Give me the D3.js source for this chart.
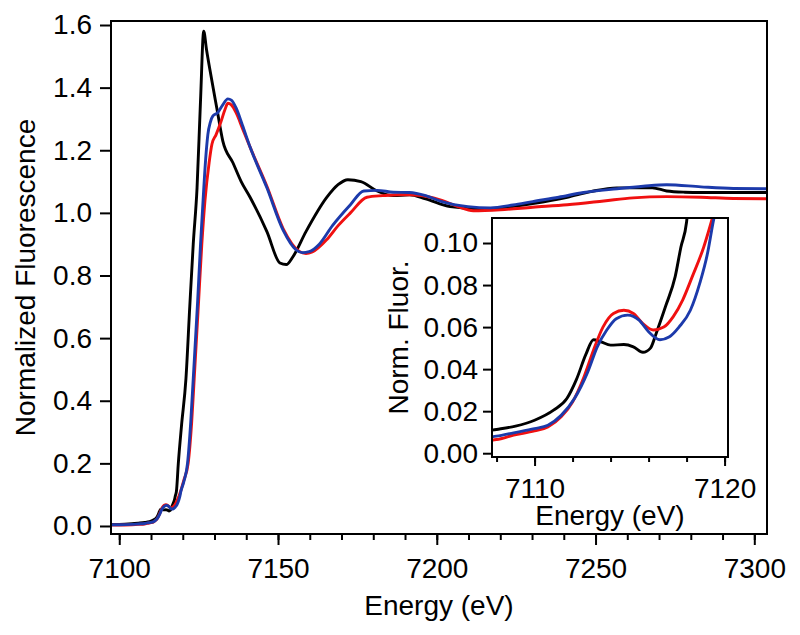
<!DOCTYPE html>
<html>
<head>
<meta charset="utf-8">
<script src="https://cdn.jsdelivr.net/npm/d3@7"></script>
<style>
  html, body { margin: 0; padding: 0; background: #fff; }
  svg { display: block; }
  text { font-family: "Liberation Sans", Arial, sans-serif; fill: #000; }
</style>
</head>
<body>
<svg id="chart" width="800" height="635"></svg>
<script>
// ---------------- DATA ----------------
const seriesNames = ["black", "red", "blue"];
const seriesColors = ["#000000", "#f01010", "#1c3aab"];

// [energy (eV), normalized fluorescence]
const blackData = [
  [7097.4, 0.005], [7100, 0.005], [7104, 0.007], [7106, 0.009], [7108, 0.0113], [7109, 0.0129],
  [7110, 0.0157], [7111, 0.0205], [7111.7, 0.026], [7112.2, 0.035], [7112.7, 0.047], [7113.1, 0.054],
  [7113.5, 0.053], [7114, 0.0514], [7114.7, 0.0517], [7115.2, 0.0506], [7115.7, 0.048], [7116.1, 0.050],
  [7116.4, 0.057], [7116.9, 0.070], [7117.4, 0.084], [7117.7, 0.098], [7118, 0.110], [7118.6, 0.20],
  [7119.6, 0.32], [7121, 0.47], [7122.2, 0.70], [7123.3, 0.90], [7124.5, 1.08], [7125.6, 1.36],
  [7126.6, 1.58], [7127.5, 1.52], [7128.5, 1.46], [7130.8, 1.33], [7132.6, 1.23], [7135.8, 1.16],
  [7138.4, 1.10], [7141.2, 1.05], [7146.5, 0.94], [7150.6, 0.84], [7152.6, 0.835], [7154.7, 0.86],
  [7158.8, 0.94], [7165.4, 1.05], [7168.9, 1.09], [7172, 1.106], [7176.1, 1.10], [7181.2, 1.07],
  [7186.3, 1.055], [7191.4, 1.058], [7196.5, 1.045], [7204.2, 1.02], [7214.6, 1.013], [7220, 1.016],
  [7230.2, 1.03], [7241.1, 1.05], [7248.5, 1.068], [7256.7, 1.08], [7267.9, 1.08], [7272.4, 1.07],
  [7278.1, 1.066], [7283.2, 1.065], [7304, 1.065]
];
const redData = [
  [7097.4, 0.003], [7100, 0.003], [7104, 0.004], [7106, 0.005], [7108, 0.0065], [7108.9, 0.0086],
  [7110, 0.0106], [7110.7, 0.0125], [7111.4, 0.0173], [7112, 0.0244], [7112.6, 0.0363], [7113.1, 0.049],
  [7113.6, 0.060], [7114.15, 0.0665], [7114.7, 0.068], [7115.2, 0.0665], [7115.7, 0.0617], [7116.25, 0.0586],
  [7116.8, 0.060], [7117.3, 0.065], [7117.8, 0.073], [7118.3, 0.084], [7118.9, 0.098], [7119.3, 0.110],
  [7120.3, 0.145], [7121.7, 0.20], [7122.8, 0.33], [7123.6, 0.47], [7125.0, 0.72], [7126.0, 0.90],
  [7127.0, 1.04], [7128.3, 1.16], [7129.2, 1.22], [7130.5, 1.25], [7132, 1.29], [7133.3, 1.33],
  [7134.2, 1.35], [7135.3, 1.345], [7136.8, 1.32], [7138.8, 1.27], [7141.2, 1.21], [7146.5, 1.085],
  [7151.6, 0.95], [7156.7, 0.877], [7158.8, 0.87], [7160.8, 0.875], [7165.4, 0.915], [7169, 0.96],
  [7172.8, 1.0], [7178, 1.05], [7183, 1.055], [7188, 1.058], [7192, 1.058], [7196.5, 1.053],
  [7201.6, 1.04], [7206.7, 1.02], [7211.5, 1.007], [7220, 1.01], [7230.2, 1.018], [7241.1, 1.026],
  [7252.6, 1.038], [7261.8, 1.048], [7272.4, 1.052], [7283.2, 1.05], [7293.4, 1.046], [7304, 1.045]
];
const blueData = [
  [7097.4, 0.004], [7100, 0.004], [7104, 0.005], [7106, 0.0065], [7108, 0.0081], [7108.9, 0.0097],
  [7110, 0.0117], [7110.7, 0.0133], [7111.4, 0.018], [7112.1, 0.026], [7112.8, 0.0387], [7113.3, 0.0506],
  [7113.8, 0.0586], [7114.3, 0.064], [7114.9, 0.0657], [7115.5, 0.0633], [7116.0, 0.0578], [7116.6, 0.054],
  [7117.1, 0.0554], [7117.6, 0.060], [7118.2, 0.068], [7118.7, 0.081], [7119.1, 0.095], [7119.4, 0.110],
  [7120.3, 0.14], [7121.5, 0.20], [7122.5, 0.33], [7123.3, 0.47], [7124.7, 0.72], [7125.6, 0.90],
  [7126.4, 1.04], [7127.2, 1.17], [7127.9, 1.25], [7128.7, 1.29], [7129.5, 1.31], [7131, 1.32],
  [7132.6, 1.345], [7134.2, 1.364], [7135.3, 1.36], [7136.8, 1.335], [7138.8, 1.28], [7141.2, 1.21],
  [7146.5, 1.08], [7151.6, 0.945], [7155.7, 0.882], [7157.7, 0.873], [7159.8, 0.876], [7163, 0.90],
  [7167.2, 0.96], [7172.8, 1.026], [7177, 1.07], [7181.2, 1.072], [7186.3, 1.066], [7191.4, 1.065],
  [7196.5, 1.055], [7201.6, 1.036], [7209.8, 1.02], [7216.9, 1.016], [7224, 1.025], [7230.2, 1.036],
  [7238.4, 1.05], [7246.2, 1.065], [7256.8, 1.077], [7265, 1.085], [7272.4, 1.09], [7283.2, 1.083],
  [7293.4, 1.078], [7304, 1.077]
];
const allSeries = [blackData, redData, blueData];

// tick values
const mainXMajor = [7100, 7150, 7200, 7250, 7300];
const mainXMinor = d3.range(7100, 7301, 10);
const mainYMajor = [0.0, 0.2, 0.4, 0.6, 0.8, 1.0, 1.2, 1.4, 1.6];
const insetXMajor = [7110, 7120];
const insetXMinor = d3.range(7108, 7121, 2);
const insetYMajor = [0.00, 0.02, 0.04, 0.06, 0.08, 0.10];

// axis ranges
const mainXDomain = [7097.4, 7304];
const mainYDomain = [-0.0256, 1.6128];
const insetXDomain = [7107.76, 7120.18];
const insetYDomain = [-0.0018, 0.1119];

// ---------------- LAYOUT ----------------
const M = { left: 111, top: 21, right: 767, bottom: 534 };
const I = { left: 492, top: 218, right: 728, bottom: 457 };
const FONT = 28;
const LW = 2.9;

const svg = d3.select("#chart");

const x = d3.scaleLinear().domain(mainXDomain).range([M.left, M.right]);
const y = d3.scaleLinear().domain(mainYDomain).range([M.bottom, M.top]);
const xi = d3.scaleLinear().domain(insetXDomain).range([I.left, I.right]);
const yi = d3.scaleLinear().domain(insetYDomain).range([I.bottom, I.top]);

const defs = svg.append("defs");
defs.append("clipPath").attr("id", "clipMain").append("rect")
  .attr("x", M.left).attr("y", M.top).attr("width", M.right - M.left).attr("height", M.bottom - M.top);
defs.append("clipPath").attr("id", "clipInset").append("rect")
  .attr("x", I.left).attr("y", I.top).attr("width", I.right - I.left).attr("height", I.bottom - I.top);

function styleAxis(g, fontSize) {
  g.select(".domain").remove();
  g.selectAll(".tick line").attr("stroke", "#000").attr("stroke-width", 2);
  g.selectAll(".tick text").attr("font-size", fontSize).attr("font-family", "'Liberation Sans', Arial, sans-serif").attr("fill", "#000");
}

// ---- main curves
const lineMain = d3.line().x(d => x(d[0])).y(d => y(d[1])).curve(d3.curveMonotoneX);
const gMain = svg.append("g").attr("clip-path", "url(#clipMain)");
allSeries.forEach((s, i) => {
  gMain.append("path").datum(s)
    .attr("d", lineMain)
    .attr("fill", "none")
    .attr("stroke", seriesColors[i])
    .attr("stroke-width", LW)
    .attr("stroke-linejoin", "round");
});

// ---- main frame
svg.append("rect")
  .attr("x", M.left).attr("y", M.top).attr("width", M.right - M.left).attr("height", M.bottom - M.top)
  .attr("fill", "none").attr("stroke", "#000").attr("stroke-width", 2);

// ---- main axes
const gxMinor = svg.append("g").attr("transform", `translate(0,${M.bottom})`)
  .call(d3.axisBottom(x).tickValues(mainXMinor).tickSize(6).tickFormat(""));
styleAxis(gxMinor, FONT);
const gx = svg.append("g").attr("transform", `translate(0,${M.bottom})`)
  .call(d3.axisBottom(x).tickValues(mainXMajor).tickSize(11).tickPadding(13).tickFormat(d3.format("d")));
styleAxis(gx, FONT);

const gy = svg.append("g").attr("transform", `translate(${M.left},0)`)
  .call(d3.axisLeft(y).tickValues(mainYMajor).tickSize(11).tickPadding(8).tickFormat(d3.format(".1f")));
styleAxis(gy, FONT);

svg.append("text")
  .attr("x", (M.left + M.right) / 2).attr("y", 615)
  .attr("text-anchor", "middle").attr("font-size", FONT)
  .text("Energy (eV)");
svg.append("text")
  .attr("transform", `translate(35,${(M.top + M.bottom) / 2}) rotate(-90)`)
  .attr("text-anchor", "middle").attr("font-size", FONT)
  .text("Normalized Fluorescence");

// ---------------- INSET ----------------
svg.append("rect")
  .attr("x", I.left).attr("y", I.top).attr("width", I.right - I.left).attr("height", I.bottom - I.top)
  .attr("fill", "#fff");

const lineInset = d3.line().x(d => xi(d[0])).y(d => yi(d[1])).curve(d3.curveMonotoneX);
const gIn = svg.append("g").attr("clip-path", "url(#clipInset)");
allSeries.forEach((s, i) => {
  gIn.append("path").datum(s)
    .attr("d", lineInset)
    .attr("fill", "none")
    .attr("stroke", seriesColors[i])
    .attr("stroke-width", LW)
    .attr("stroke-linejoin", "round");
});

svg.append("rect")
  .attr("x", I.left).attr("y", I.top).attr("width", I.right - I.left).attr("height", I.bottom - I.top)
  .attr("fill", "none").attr("stroke", "#000").attr("stroke-width", 2);

const gixMinor = svg.append("g").attr("transform", `translate(0,${I.bottom})`)
  .call(d3.axisBottom(xi).tickValues(insetXMinor).tickSize(5).tickFormat(""));
styleAxis(gixMinor, FONT);
const gix = svg.append("g").attr("transform", `translate(0,${I.bottom})`)
  .call(d3.axisBottom(xi).tickValues(insetXMajor).tickSize(9).tickPadding(12).tickFormat(d3.format("d")));
styleAxis(gix, FONT);

const giy = svg.append("g").attr("transform", `translate(${I.left},0)`)
  .call(d3.axisLeft(yi).tickValues(insetYMajor).tickSize(9).tickPadding(5).tickFormat(d3.format(".2f")));
styleAxis(giy, FONT);

svg.append("text")
  .attr("x", (I.left + I.right) / 2).attr("y", 525)
  .attr("text-anchor", "middle").attr("font-size", FONT)
  .text("Energy (eV)");
svg.append("text")
  .attr("transform", `translate(408,${(I.top + I.bottom) / 2}) rotate(-90)`)
  .attr("text-anchor", "middle").attr("font-size", FONT)
  .text("Norm. Fluor.");
</script>
</body>
</html>
